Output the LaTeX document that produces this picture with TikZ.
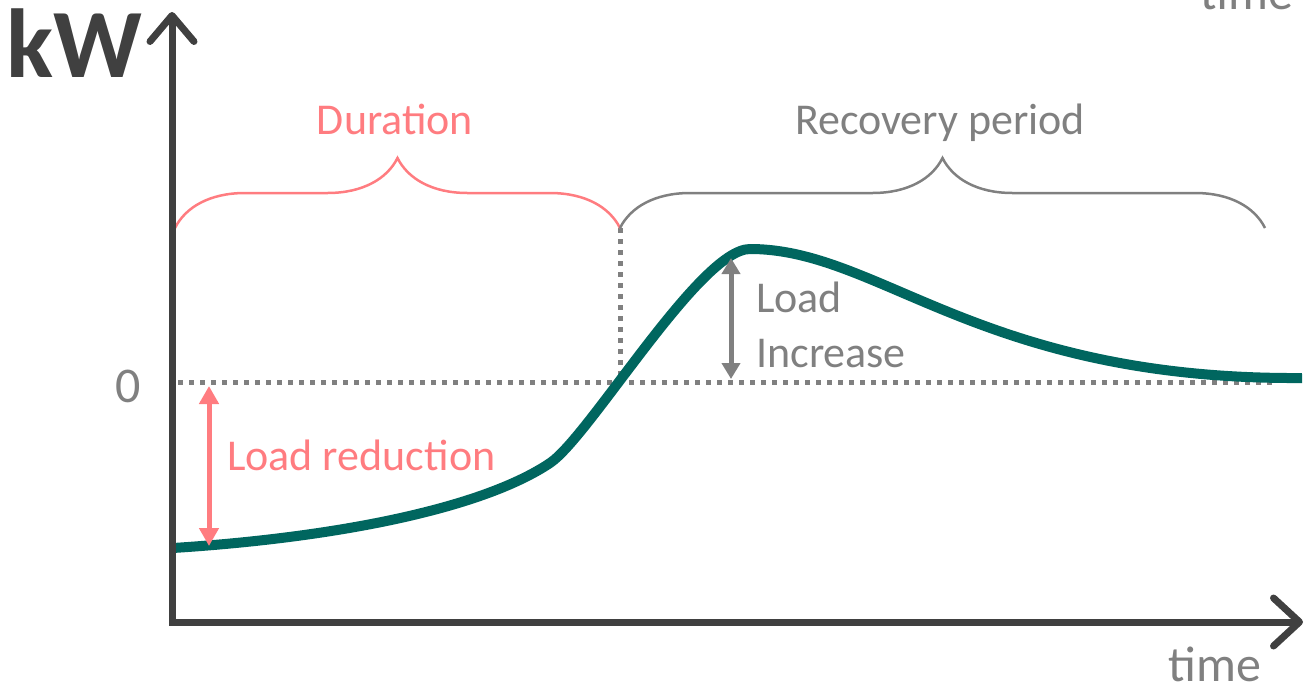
\documentclass[tikz,border=0pt]{standalone}
\usepackage{fontspec}
\setmainfont{Carlito}
\usepackage{tikz}
\usetikzlibrary{arrows.meta,decorations.pathreplacing}

\definecolor{axisGray}{HTML}{404040}
\definecolor{labelGray}{HTML}{808080}
\definecolor{loadRed}{HTML}{FF7C80}
\definecolor{loadTeal}{HTML}{00665F}

\begin{document}
\begin{tikzpicture}[
    x=1pt, y=-1pt,
    every node/.style={inner sep=0pt, font=\fontsize{44}{54}\selectfont},
    axisLine/.style={draw=axisGray, line width=7pt, line join=miter,
        {Straight Barb[round,length=26pt,width=44pt]}-{Straight Barb[round,length=26pt,width=48pt]}},
    curveLine/.style={draw=loadTeal, line width=10pt},
    dotLine/.style={draw=labelGray, line width=5pt, dash pattern=on 5pt off 6pt},
    redBrace/.style={draw=loadRed, line width=2.5pt, decorate, decoration={brace, amplitude=70pt}},
    grayBrace/.style={draw=labelGray, line width=2.5pt, decorate, decoration={brace, amplitude=70pt}},
    redArrow/.style={draw=loadRed, line width=5pt, {Triangle[length=18pt,width=19pt]}-{Triangle[length=18pt,width=19pt]}},
    grayArrow/.style={draw=labelGray, line width=5pt, {Triangle[length=16pt,width=18pt]}-{Triangle[length=16pt,width=18pt]}}
    ]
    \useasboundingbox (0,0) rectangle (1306,691);

    % Points
    \coordinate (yTip) at (172,12);
    \coordinate (origin) at (172,622);
    \coordinate (xTip) at (1303,622);
    \coordinate (durStart) at (175,228);
    \coordinate (durEnd) at (620,228);
    \coordinate (recEnd) at (1265,228);
    \coordinate (zeroStart) at (178,382);
    \coordinate (crossPt) at (620,382);
    \coordinate (zeroEnd) at (1275,382);
    \coordinate (redTop) at (209,386);
    \coordinate (redBot) at (209,546);
    \coordinate (grayTop) at (731,258);
    \coordinate (grayBot) at (731,379);
    \coordinate (curveStart) at (173,548);
    \coordinate (curveKnee) at (550,463);
    \coordinate (curvePeak) at (750,249);
    \coordinate (curveEnd) at (1302,378);

    % Labels
    \node[anchor=base west, font=\fontsize{98}{104}\selectfont\bfseries, text=axisGray] (kwLabel) at (6,77) {kW};
    \node[anchor=base west, font=\fontsize{50}{60}\selectfont, text=labelGray] (timeTop) at (1200,9) {time};
    \node[anchor=base west, font=\fontsize{50}{60}\selectfont, text=labelGray] (timeLabel) at (1168,681) {time};
    \node[anchor=base, font=\fontsize{50}{60}\selectfont, text=labelGray] (zeroLabel) at (128,402) {0};
    \node[anchor=base, text=loadRed] (durLabel) at (395,134) {Duration};
    \node[anchor=base, text=labelGray] (recLabel) at (940,134) {Recovery period};
    \node[anchor=base west, text=loadRed] (redLabel) at (227,470) {Load reduction};
    \node[anchor=base west, text=labelGray] (loadWord) at (756,312) {Load};
    \node[anchor=base west, text=labelGray] (increaseWord) at (756,367) {Increase};

    % Lines
    \draw[dotLine] (zeroStart) -- (zeroEnd);
    \draw[dotLine] (durEnd) -- (crossPt);
    \draw[redBrace] (durStart) -- (durEnd);
    \draw[grayBrace] (durEnd) -- (recEnd);
    \draw[curveLine] (curveStart) .. controls (330,538) and (480,510) .. (curveKnee)
        .. controls (590,436) and (700,249) .. (curvePeak)
        .. controls (880,249) and (980,380) .. (curveEnd);
    \draw[redArrow] (redTop) -- (redBot);
    \draw[grayArrow] (grayTop) -- (grayBot);
    \draw[axisLine] (yTip) -- (origin) -- (xTip);

\end{tikzpicture}
\end{document}
